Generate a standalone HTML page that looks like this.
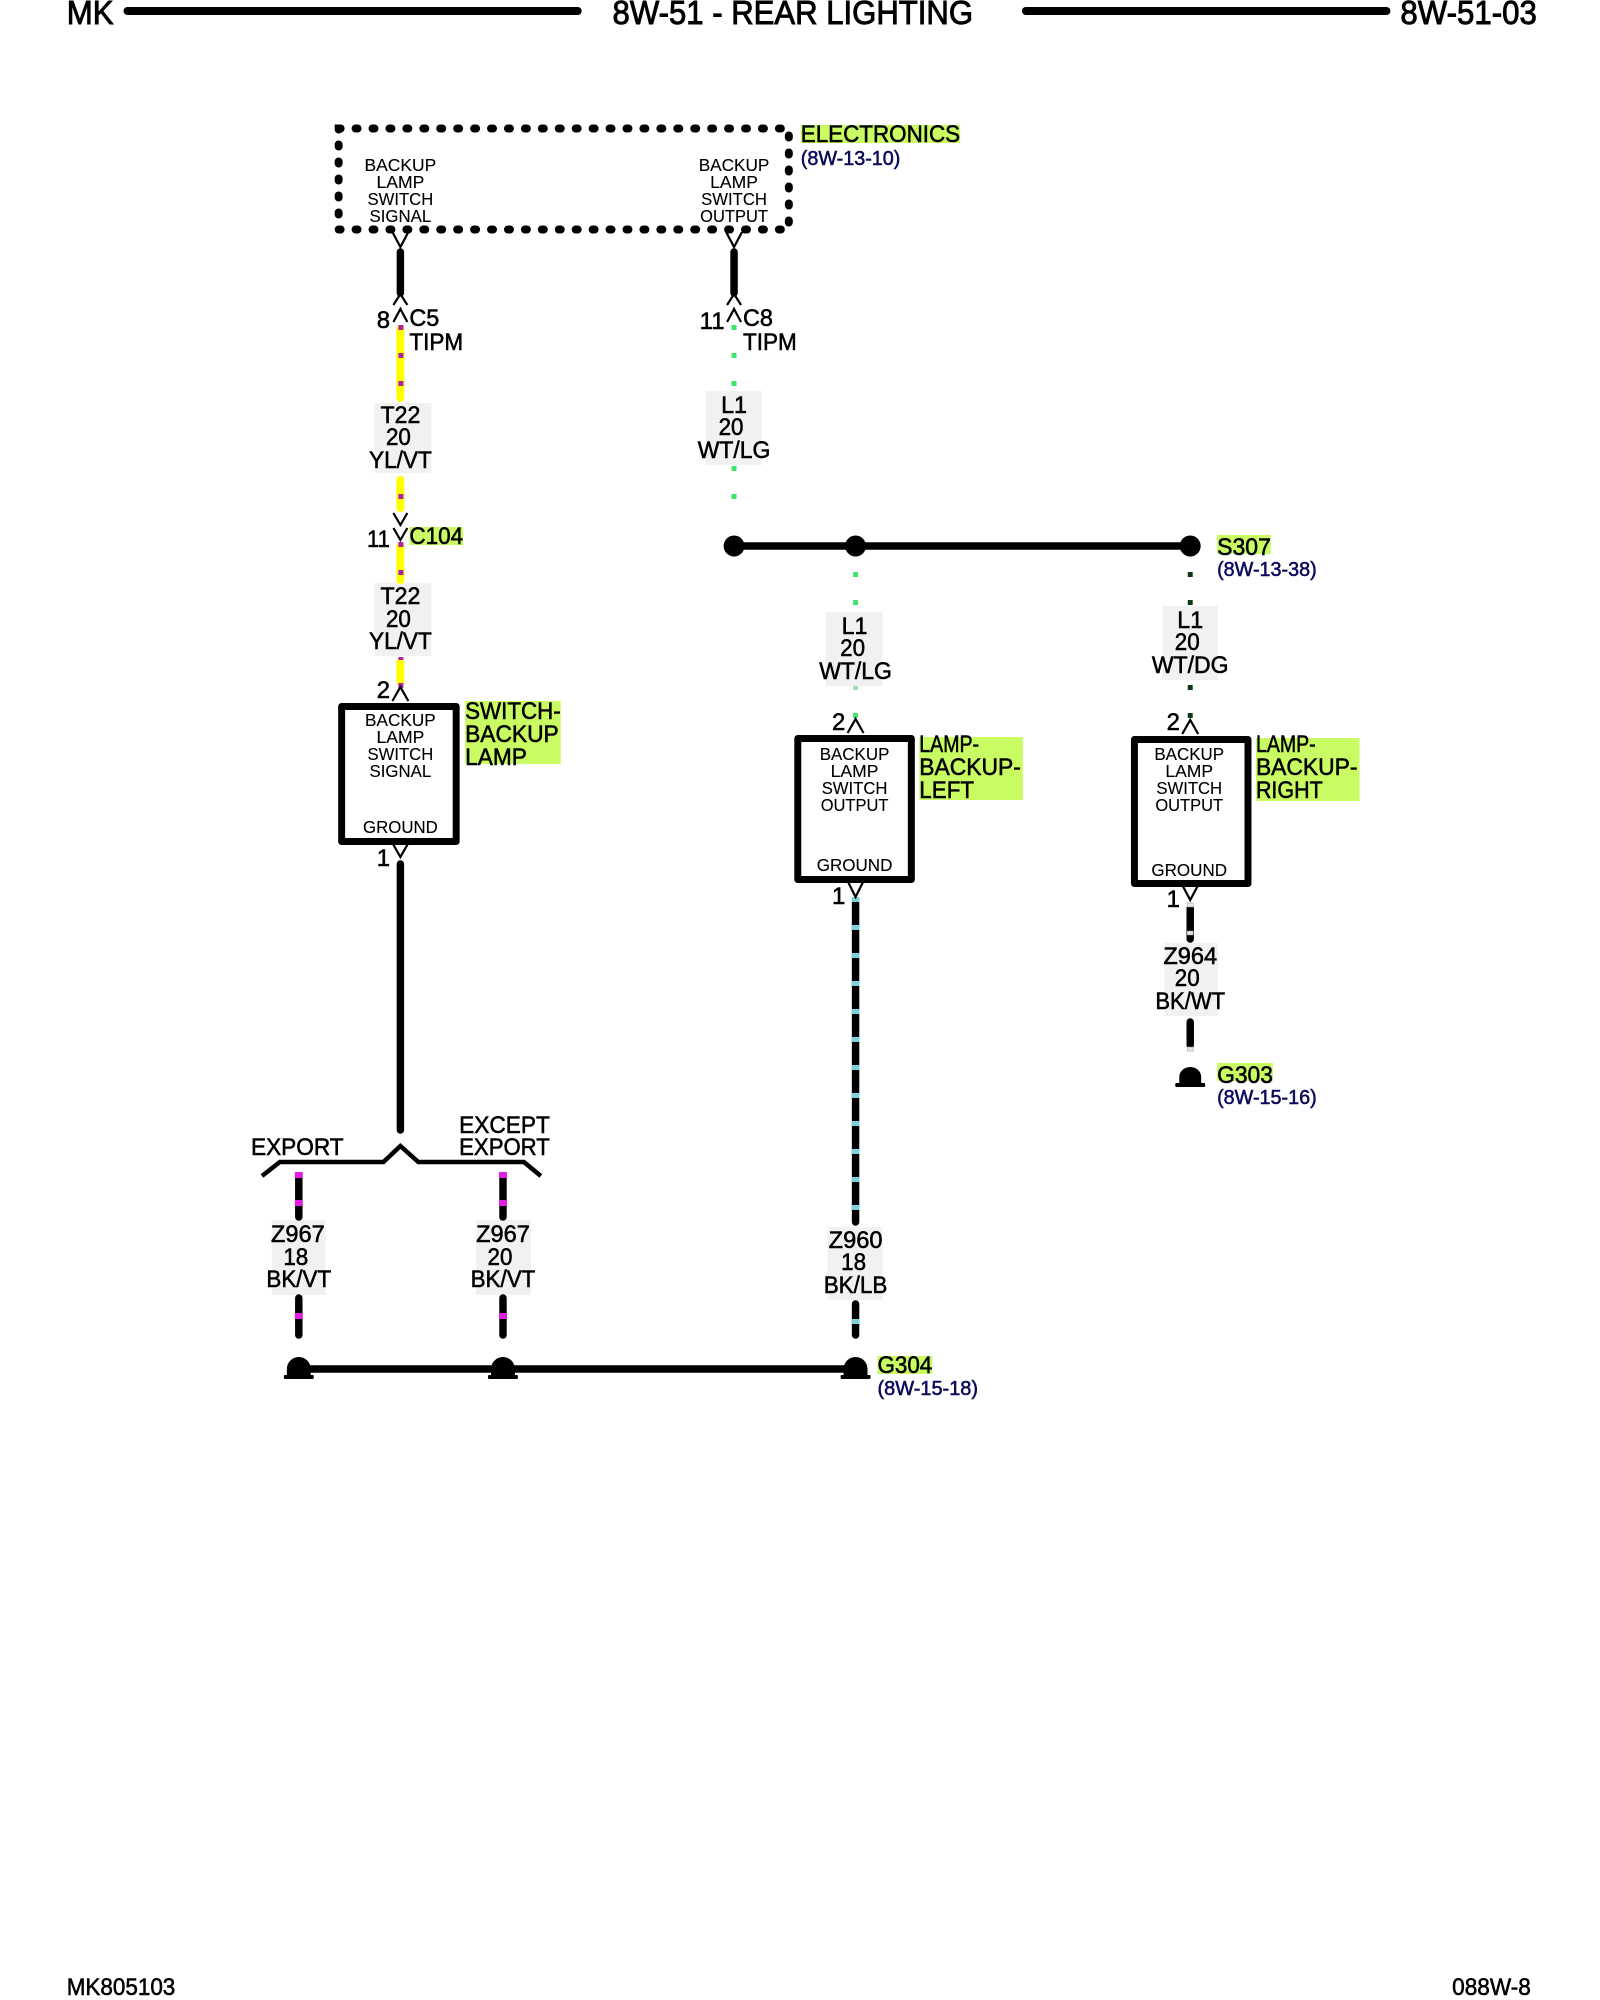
<!DOCTYPE html>
<html><head><meta charset="utf-8"><title>8W-51 Rear Lighting</title>
<style>
html,body{margin:0;padding:0;background:#fff;width:1600px;height:2000px;overflow:hidden}
svg{display:block}
text{font-family:"Liberation Sans",sans-serif;fill:#000;text-anchor:middle}
.h{font-size:33px;stroke:#000;stroke-width:.9}
.b{font-size:17.5px;stroke:#000;stroke-width:.12}
.w{font-size:24px;stroke:#000;stroke-width:.55}
.s{text-anchor:start}
.r{font-size:20px;fill:#0b0b5c;text-anchor:start;stroke:#0b0b5c;stroke-width:.55}
.hl{fill:#c9fb62}
.bg{fill:#f1f1f1}
.c{fill:none;stroke:#000;stroke-width:2.2}
</style></head><body>
<svg width="1600" height="2000" viewBox="0 0 1600 2000" xmlns="http://www.w3.org/2000/svg">
<g transform="scale(0.996 1)">
<!-- header -->
<g stroke="#000" stroke-width="8" stroke-linecap="round">
<line x1="128" y1="11" x2="580" y2="11"/><line x1="1030" y1="11" x2="1392" y2="11"/>
</g>
<text class="h s" x="67" y="24" textLength="47" lengthAdjust="spacingAndGlyphs">MK</text>
<text class="h s" x="615" y="24" textLength="362" lengthAdjust="spacingAndGlyphs">8W-51 - REAR LIGHTING</text>
<text class="h s" x="1406" y="24" textLength="137" lengthAdjust="spacingAndGlyphs">8W-51-03</text>
<!-- footer -->
<text class="w s" x="67" y="1995" textLength="109" lengthAdjust="spacingAndGlyphs">MK805103</text>
<text class="w s" x="1458" y="1995" textLength="79" lengthAdjust="spacingAndGlyphs">088W-8</text>

<!-- label backgrounds / highlights -->
<rect class="bg" x="376" y="403" width="57" height="70"/>
<rect class="bg" x="376" y="583" width="57" height="73"/>
<rect class="bg" x="709" y="391" width="56" height="74"/>
<rect class="bg" x="829" y="612" width="57" height="74"/>
<rect class="bg" x="1167" y="606" width="56" height="74"/>
<rect class="bg" x="1169" y="943" width="54" height="73"/>
<rect class="bg" x="273" y="1220" width="54" height="75"/>
<rect class="bg" x="478" y="1220" width="55" height="75"/>
<rect class="bg" x="831" y="1227" width="55" height="73"/>
<rect class="hl" x="804" y="125" width="160" height="18"/>
<rect class="hl" x="411" y="527" width="54" height="18"/>
<rect class="hl" x="467" y="701" width="96" height="63"/>
<rect class="hl" x="923" y="737" width="104" height="63"/>
<rect class="hl" x="1261" y="738" width="104" height="63"/>
<rect class="hl" x="1222" y="535" width="54" height="19"/>
<rect class="hl" x="1222" y="1063" width="56" height="18"/>
<rect class="hl" x="881" y="1356" width="55" height="18"/>

<!-- dashed module -->
<rect x="340" y="128.500" width="452" height="101" fill="none" stroke="#000" stroke-width="8" stroke-linecap="round" stroke-dasharray="2 15"/>

<!-- boxes -->
<g fill="none" stroke="#000" stroke-width="7" stroke-linejoin="round">
<rect x="343" y="706.500" width="115" height="135"/>
<rect x="801" y="738.500" width="114" height="141"/>
<rect x="1139" y="739.500" width="114" height="144"/>
</g>

<!-- black wire segments -->
<g stroke="#000" stroke-width="7.500" stroke-linecap="round" fill="none">
<line x1="402" y1="252" x2="402" y2="293"/>
<line x1="737" y1="252" x2="737" y2="293"/>
<line x1="402" y1="864" x2="402" y2="1130"/>
<line x1="859" y1="902" x2="859" y2="1222"/>
<line x1="859" y1="1304" x2="859" y2="1335"/>
<line x1="1195" y1="908" x2="1195" y2="939"/>
<line x1="1195" y1="1022" x2="1195" y2="1045"/>
<line x1="300" y1="1178" x2="300" y2="1217"/>
<line x1="300" y1="1298" x2="300" y2="1335"/>
<line x1="505" y1="1178" x2="505" y2="1217"/>
<line x1="505" y1="1298" x2="505" y2="1335"/>
<line x1="737" y1="546" x2="1195" y2="546"/>
<line x1="300" y1="1369" x2="859" y2="1369"/>
</g>
<!-- yellow wires -->
<g stroke="#ffff00" stroke-width="8" stroke-linecap="round">
<line x1="402" y1="329" x2="402" y2="398"/>
<line x1="402" y1="480" x2="402" y2="508"/>
<line x1="402" y1="546" x2="402" y2="580"/>
<line x1="402" y1="662" x2="402" y2="682"/>
</g>
<!-- magenta tracers on yellow -->
<g fill="#b21fa8">
<rect x="400" y="325" width="5" height="5"/><rect x="400" y="353" width="5" height="5"/><rect x="400" y="381" width="5" height="5"/>
<rect x="400" y="494" width="5" height="5"/><rect x="400" y="542" width="5" height="5"/><rect x="400" y="570" width="5" height="5"/>
<rect x="400" y="657" width="5" height="3"/><rect x="400" y="683" width="5" height="5"/>
</g>
<!-- magenta on black -->
<g fill="#e01fe0">
<rect x="296" y="1172" width="8" height="6"/><rect x="296" y="1200" width="8" height="6"/><rect x="296" y="1313" width="8" height="6"/>
<rect x="501" y="1172" width="8" height="6"/><rect x="501" y="1200" width="8" height="6"/><rect x="501" y="1313" width="8" height="6"/>
</g>
<!-- light green tracers -->
<g fill="#3fe56f">
<rect x="734.500" y="325" width="5" height="5"/><rect x="734.500" y="353" width="5" height="5"/><rect x="734.500" y="381" width="5" height="5"/>
<rect x="734.500" y="466" width="5" height="5"/><rect x="734.500" y="494" width="5" height="5"/>
<rect x="856.500" y="572" width="5" height="5"/><rect x="856.500" y="600" width="5" height="5"/><rect x="856.500" y="713" width="5" height="5"/>
<rect x="856.500" y="686" width="5" height="4" fill="#a8d8b0"/>
</g>
<!-- dark green tracers -->
<g fill="#0c3a18">
<rect x="1192.500" y="572" width="5" height="5"/><rect x="1192.500" y="600" width="5" height="5"/><rect x="1192.500" y="685" width="5" height="5"/><rect x="1192.500" y="713" width="5" height="5"/>
</g>
<!-- teal tracers -->
<g fill="#7fd0d8">
<rect x="855" y="897" width="8" height="5"/><rect x="855" y="925" width="8" height="5"/><rect x="855" y="953" width="8" height="5"/><rect x="855" y="981" width="8" height="5"/><rect x="855" y="1009" width="8" height="5"/><rect x="855" y="1037" width="8" height="5"/><rect x="855" y="1065" width="8" height="5"/><rect x="855" y="1093" width="8" height="5"/><rect x="855" y="1121" width="8" height="5"/><rect x="855" y="1149" width="8" height="5"/><rect x="855" y="1177" width="8" height="5"/><rect x="855" y="1205" width="8" height="5"/><rect x="855" y="1319" width="8" height="5"/>
</g>
<!-- white tracers on Z964 -->
<g fill="#e8e8e8" stroke="#999" stroke-width=".5">
<rect x="1192" y="903" width="6" height="4"/><rect x="1192" y="931" width="6" height="4"/><rect x="1192" y="1047" width="6" height="4"/>
</g>

<!-- splices -->
<circle cx="737" cy="546" r="10.500"/><circle cx="859" cy="546" r="10.500"/><circle cx="1195" cy="546" r="10.500"/>

<!-- connector chevrons -->
<path class="c" d="M394 232L402 247L410 232M729 232L737 247L745 232"/>
<path class="c" d="M395 305L402 294L409 305M395 322L402 309L409 322M730 305L737 294L744 305M730 322L737 309L744 322"/>
<path class="c" d="M395 513L402 525L409 513M395 528L402 540L409 528"/>
<path class="c" d="M394 701L402 687L410 701M851 733L859 719L867 733M1187 734L1195 720L1203 734"/>
<path class="c" d="M394 843L402 857L410 843M851 881L859 897L867 881M1187 885L1195 900L1203 885"/>

<!-- bracket -->
<path d="M263 1176L281 1162H385L402 1146L420 1162H526L543 1176" fill="none" stroke="#000" stroke-width="4.500"/>

<!-- grounds -->
<path d="M288 1375v-6a12 12 0 0 1 24 0v6z"/><rect x="285" y="1375" width="30" height="4" rx="1"/>
<path d="M493 1375v-6a12 12 0 0 1 24 0v6z"/><rect x="490" y="1375" width="30" height="4" rx="1"/>
<path d="M847 1375v-6a12 12 0 0 1 24 0v6z"/><rect x="844" y="1375" width="30" height="4" rx="1"/>
<path d="M1184 1083v-6a11 10 0 0 1 22 0v6z"/><rect x="1180" y="1083" width="30" height="4" rx="1"/>

<!-- dashed module text -->
<text class="b" x="402" y="171" textLength="72" lengthAdjust="spacingAndGlyphs">BACKUP</text>
<text class="b" x="402" y="188" textLength="48" lengthAdjust="spacingAndGlyphs">LAMP</text>
<text class="b" x="402" y="205" textLength="66" lengthAdjust="spacingAndGlyphs">SWITCH</text>
<text class="b" x="402" y="222" textLength="62" lengthAdjust="spacingAndGlyphs">SIGNAL</text>
<text class="b" x="737" y="171" textLength="71" lengthAdjust="spacingAndGlyphs">BACKUP</text>
<text class="b" x="737" y="188" textLength="48" lengthAdjust="spacingAndGlyphs">LAMP</text>
<text class="b" x="737" y="205" textLength="66" lengthAdjust="spacingAndGlyphs">SWITCH</text>
<text class="b" x="737" y="222" textLength="68" lengthAdjust="spacingAndGlyphs">OUTPUT</text>
<!-- switch box -->
<text class="b" x="402" y="726" textLength="71" lengthAdjust="spacingAndGlyphs">BACKUP</text>
<text class="b" x="402" y="743" textLength="48" lengthAdjust="spacingAndGlyphs">LAMP</text>
<text class="b" x="402" y="760" textLength="66" lengthAdjust="spacingAndGlyphs">SWITCH</text>
<text class="b" x="402" y="777" textLength="62" lengthAdjust="spacingAndGlyphs">SIGNAL</text>
<text class="b" x="402" y="833" textLength="75" lengthAdjust="spacingAndGlyphs">GROUND</text>
<!-- left lamp -->
<text class="b" x="858" y="760" textLength="70" lengthAdjust="spacingAndGlyphs">BACKUP</text>
<text class="b" x="858" y="777" textLength="48" lengthAdjust="spacingAndGlyphs">LAMP</text>
<text class="b" x="858" y="794" textLength="66" lengthAdjust="spacingAndGlyphs">SWITCH</text>
<text class="b" x="858" y="811" textLength="68" lengthAdjust="spacingAndGlyphs">OUTPUT</text>
<text class="b" x="858" y="871" textLength="76" lengthAdjust="spacingAndGlyphs">GROUND</text>
<!-- right lamp -->
<text class="b" x="1194" y="760" textLength="70" lengthAdjust="spacingAndGlyphs">BACKUP</text>
<text class="b" x="1194" y="777" textLength="48" lengthAdjust="spacingAndGlyphs">LAMP</text>
<text class="b" x="1194" y="794" textLength="66" lengthAdjust="spacingAndGlyphs">SWITCH</text>
<text class="b" x="1194" y="811" textLength="68" lengthAdjust="spacingAndGlyphs">OUTPUT</text>
<text class="b" x="1194" y="876" textLength="76" lengthAdjust="spacingAndGlyphs">GROUND</text>

<!-- component names -->
<text class="w s" x="804" y="142" textLength="160" lengthAdjust="spacingAndGlyphs">ELECTRONICS</text>
<text class="r" x="804" y="165" textLength="100" lengthAdjust="spacingAndGlyphs">(8W-13-10)</text>
<text class="w s" x="467" y="719" textLength="96" lengthAdjust="spacingAndGlyphs">SWITCH-</text>
<text class="w s" x="467" y="742" textLength="94" lengthAdjust="spacingAndGlyphs">BACKUP</text>
<text class="w s" x="467" y="765" textLength="62" lengthAdjust="spacingAndGlyphs">LAMP</text>
<text class="w s" x="923" y="752" textLength="60" lengthAdjust="spacingAndGlyphs">LAMP-</text>
<text class="w s" x="923" y="775" textLength="102" lengthAdjust="spacingAndGlyphs">BACKUP-</text>
<text class="w s" x="923" y="798" textLength="55" lengthAdjust="spacingAndGlyphs">LEFT</text>
<text class="w s" x="1261" y="752" textLength="60" lengthAdjust="spacingAndGlyphs">LAMP-</text>
<text class="w s" x="1261" y="775" textLength="102" lengthAdjust="spacingAndGlyphs">BACKUP-</text>
<text class="w s" x="1261" y="798" textLength="67" lengthAdjust="spacingAndGlyphs">RIGHT</text>
<text class="w s" x="1222" y="555" textLength="54" lengthAdjust="spacingAndGlyphs">S307</text>
<text class="r" x="1222" y="576" textLength="100" lengthAdjust="spacingAndGlyphs">(8W-13-38)</text>
<text class="w s" x="1222" y="1083" textLength="56" lengthAdjust="spacingAndGlyphs">G303</text>
<text class="r" x="1222" y="1104" textLength="100" lengthAdjust="spacingAndGlyphs">(8W-15-16)</text>
<text class="w s" x="881" y="1373" textLength="55" lengthAdjust="spacingAndGlyphs">G304</text>
<text class="r" x="881" y="1395" textLength="101" lengthAdjust="spacingAndGlyphs">(8W-15-18)</text>

<!-- pins & connectors -->
<text class="w" x="385" y="328">8</text>
<text class="w s" x="411" y="326" textLength="30" lengthAdjust="spacingAndGlyphs">C5</text>
<text class="w s" x="411" y="350" textLength="54" lengthAdjust="spacingAndGlyphs">TIPM</text>
<text class="w" x="715" y="329" textLength="25" lengthAdjust="spacingAndGlyphs">11</text>
<text class="w s" x="746" y="326" textLength="30" lengthAdjust="spacingAndGlyphs">C8</text>
<text class="w s" x="746" y="350" textLength="54" lengthAdjust="spacingAndGlyphs">TIPM</text>
<text class="w" x="380" y="547" textLength="23" lengthAdjust="spacingAndGlyphs">11</text>
<text class="w s" x="411" y="544" textLength="54" lengthAdjust="spacingAndGlyphs">C104</text>
<text class="w" x="385" y="698">2</text>
<text class="w" x="385" y="866">1</text>
<text class="w" x="842" y="730">2</text>
<text class="w" x="842" y="904">1</text>
<text class="w" x="1178" y="730">2</text>
<text class="w" x="1178" y="907">1</text>

<!-- wire labels -->
<text class="w" x="402" y="423" textLength="40" lengthAdjust="spacingAndGlyphs">T22</text>
<text class="w" x="400" y="445" textLength="25" lengthAdjust="spacingAndGlyphs">20</text>
<text class="w" x="402" y="468" textLength="63" lengthAdjust="spacingAndGlyphs">YL/VT</text>
<text class="w" x="402" y="604" textLength="40" lengthAdjust="spacingAndGlyphs">T22</text>
<text class="w" x="400" y="627" textLength="25" lengthAdjust="spacingAndGlyphs">20</text>
<text class="w" x="402" y="649" textLength="63" lengthAdjust="spacingAndGlyphs">YL/VT</text>
<text class="w" x="737" y="413" textLength="26" lengthAdjust="spacingAndGlyphs">L1</text>
<text class="w" x="734" y="435" textLength="25" lengthAdjust="spacingAndGlyphs">20</text>
<text class="w" x="737" y="458" textLength="73" lengthAdjust="spacingAndGlyphs">WT/LG</text>
<text class="w" x="858" y="634" textLength="26" lengthAdjust="spacingAndGlyphs">L1</text>
<text class="w" x="856" y="656" textLength="25" lengthAdjust="spacingAndGlyphs">20</text>
<text class="w" x="859" y="679" textLength="73" lengthAdjust="spacingAndGlyphs">WT/LG</text>
<text class="w" x="1195" y="628" textLength="26" lengthAdjust="spacingAndGlyphs">L1</text>
<text class="w" x="1192" y="650" textLength="25" lengthAdjust="spacingAndGlyphs">20</text>
<text class="w" x="1195" y="673" textLength="77" lengthAdjust="spacingAndGlyphs">WT/DG</text>
<text class="w" x="1195" y="964" textLength="54" lengthAdjust="spacingAndGlyphs">Z964</text>
<text class="w" x="1192" y="986" textLength="25" lengthAdjust="spacingAndGlyphs">20</text>
<text class="w" x="1195" y="1009" textLength="70" lengthAdjust="spacingAndGlyphs">BK/WT</text>
<text class="w" x="299" y="1242" textLength="54" lengthAdjust="spacingAndGlyphs">Z967</text>
<text class="w" x="297" y="1265" textLength="25" lengthAdjust="spacingAndGlyphs">18</text>
<text class="w" x="300" y="1287" textLength="65" lengthAdjust="spacingAndGlyphs">BK/VT</text>
<text class="w" x="505" y="1242" textLength="54" lengthAdjust="spacingAndGlyphs">Z967</text>
<text class="w" x="502" y="1265" textLength="25" lengthAdjust="spacingAndGlyphs">20</text>
<text class="w" x="505" y="1287" textLength="65" lengthAdjust="spacingAndGlyphs">BK/VT</text>
<text class="w" x="859" y="1248" textLength="54" lengthAdjust="spacingAndGlyphs">Z960</text>
<text class="w" x="857" y="1270" textLength="25" lengthAdjust="spacingAndGlyphs">18</text>
<text class="w" x="859" y="1293" textLength="64" lengthAdjust="spacingAndGlyphs">BK/LB</text>

<!-- option labels -->
<text class="w s" x="252" y="1155" textLength="93" lengthAdjust="spacingAndGlyphs">EXPORT</text>
<text class="w s" x="461" y="1133" textLength="91" lengthAdjust="spacingAndGlyphs">EXCEPT</text>
<text class="w s" x="461" y="1155" textLength="91" lengthAdjust="spacingAndGlyphs">EXPORT</text>
</g>
</svg>
</body></html>
